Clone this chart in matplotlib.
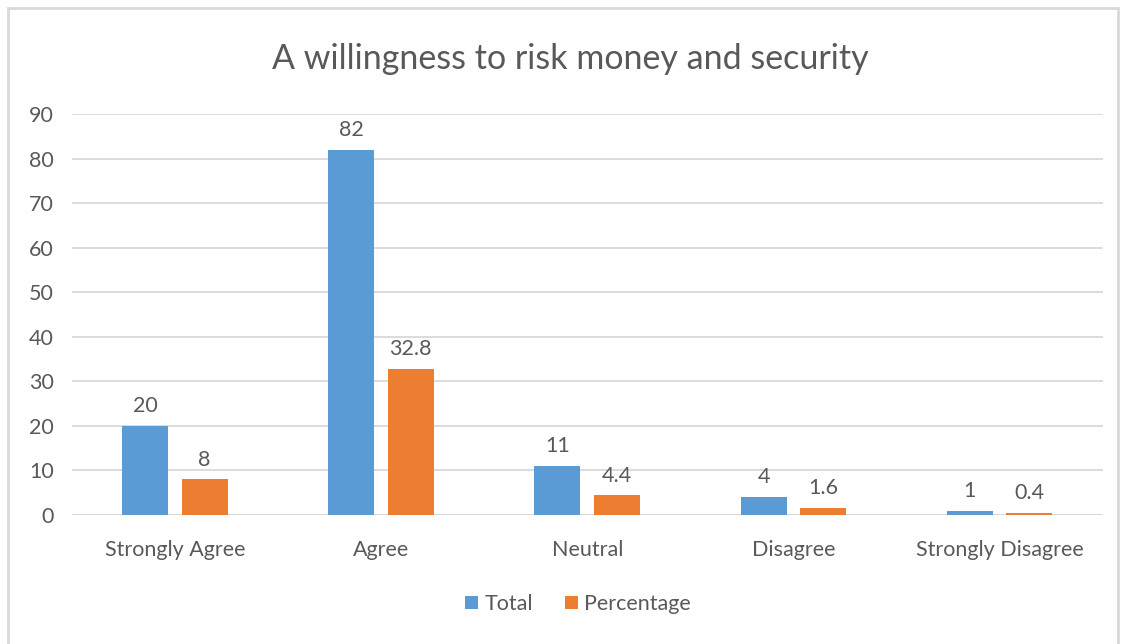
import matplotlib.pyplot as plt
import numpy as np
from matplotlib.patches import Rectangle

categories = ['Strongly Agree', 'Agree', 'Neutral', 'Disagree', 'Strongly Disagree']
total = [20, 82, 11, 4, 1]
percentage = [8, 32.8, 4.4, 1.6, 0.4]
total_labels = ['20', '82', '11', '4', '1']
pct_labels = ['8', '32.8', '4.4', '1.6', '0.4']

blue = '#5B9BD5'
orange = '#ED7D31'
text_gray = '#595959'
grid_gray = '#D9D9D9'

plt.rcParams['font.family'] = ['Lato', 'DejaVu Sans']

fig = plt.figure(figsize=(11.25, 6.44), dpi=100)
ax = fig.add_axes([72 / 1125, 1 - 515 / 644, (1103 - 72) / 1125, (515 - 114) / 644])

x = np.arange(len(categories))
w = 0.223
b1 = ax.bar(x - 0.146, total, w, color=blue, label='Total', zorder=3)
b2 = ax.bar(x + 0.143, percentage, w, color=orange, label='Percentage', zorder=3)

for bars, labels in ((b1, total_labels), (b2, pct_labels)):
    for bar, lab in zip(bars, labels):
        ax.annotate(lab, (bar.get_x() + bar.get_width() / 2, bar.get_height()),
                    xytext=(0, 7), textcoords='offset points', ha='center', va='bottom',
                    fontsize=15.5, color=text_gray)

ax.set_xlim(-0.5, 4.5)
ax.set_ylim(0, 90)
ax.set_yticks(range(0, 91, 10))
ax.set_xticks(x)
ax.set_xticklabels(categories)
ax.tick_params(axis='both', length=0, labelsize=15.5, colors=text_gray)
ax.tick_params(axis='x', pad=18)
ax.tick_params(axis='y', pad=13)
ax.yaxis.grid(True, color=grid_gray, linewidth=1.3, zorder=0)
for s in ax.spines.values():
    s.set_visible(False)
ax.axhline(0, color=grid_gray, linewidth=1.3, zorder=2)

fig.text(570 / 1125, 1 - 59 / 644, 'A willingness to risk money and security',
         ha='center', va='center', fontsize=24.5, color=text_gray)

fig.legend(loc='center', bbox_to_anchor=(578 / 1125, 1 - 604 / 644), ncol=2, frameon=False,
           fontsize=15.5, handlelength=0.6, handleheight=0.6, handletextpad=0.3,
           columnspacing=1.5, labelcolor=text_gray)

# light outer frame around the chart area
fig.patches.append(Rectangle((8 / 1125, -0.05), (1118 - 8) / 1125, 1.05 - 8 / 644,
                             transform=fig.transFigure, fill=False,
                             edgecolor='#D9D9D9', linewidth=2))

fig.savefig('out.png', dpi=100)
